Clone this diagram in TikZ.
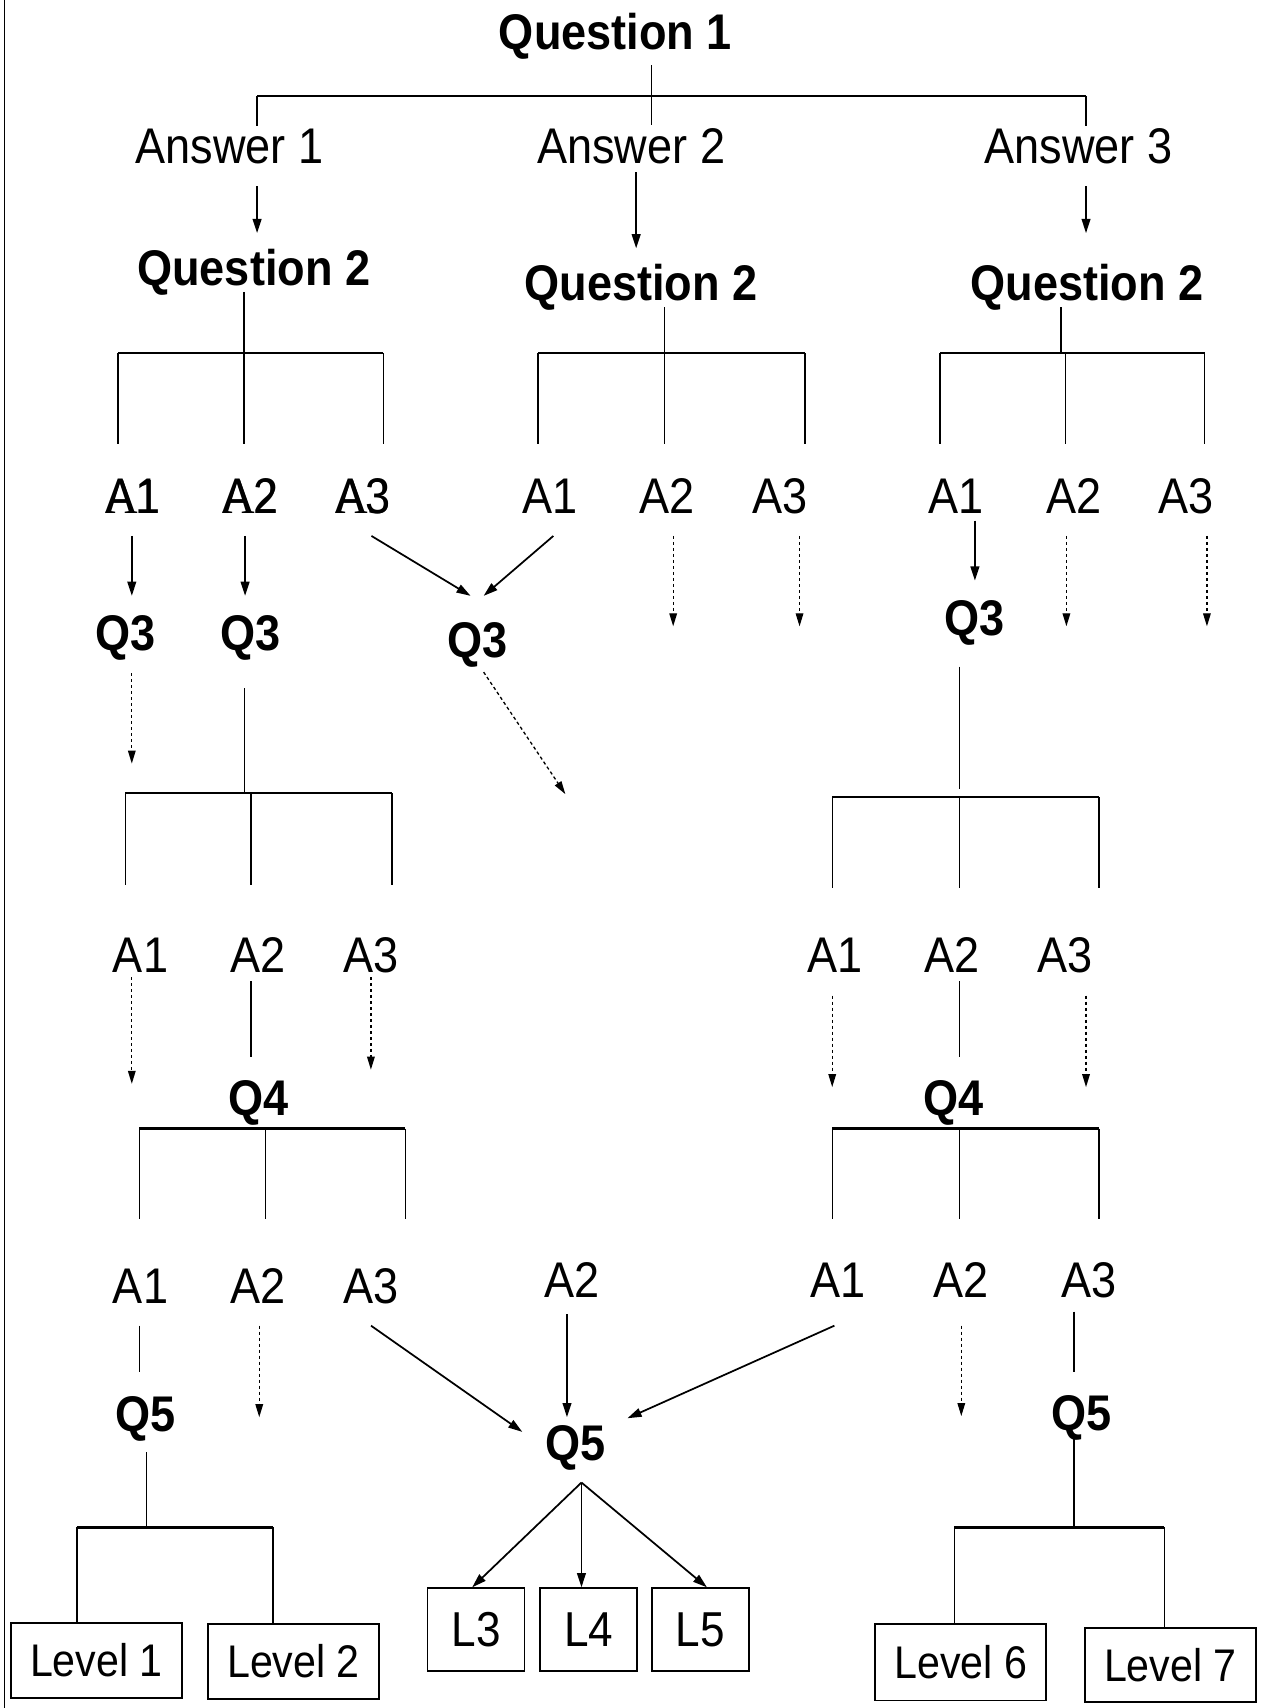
\documentclass[tikz,border=0pt]{standalone}
\usepackage{fontspec}
\setmainfont{Liberation Sans}[FakeStretch=0.9]
\newfontfamily\twinserif{Liberation Serif}[FakeStretch=0.9]
\usetikzlibrary{arrows.meta}
% label drawn twice, serif over sans, centred on one point
\newcommand{\twin}[1]{\makebox[0pt]{#1}\makebox[0pt]{\twinserif #1}}
\begin{document}
\begin{tikzpicture}[x=1pt,y=-1pt,
  qlab/.style={font=\bfseries\fontsize{46}{52}\selectfont, inner sep=0pt, anchor=base},
  alab/.style={font=\fontsize{46}{52}\selectfont, inner sep=0pt, anchor=base},
  lvl/.style={draw, line width=1.6pt, inner sep=0pt, font=\fontsize{42}{48}\selectfont},
  lbox/.style={draw, line width=1.6pt, inner sep=0pt, font=\fontsize{45}{50}\selectfont,
               minimum width=89pt, minimum height=76pt},
  ln/.style={line width=1.3pt},
  bar/.style={line width=2.4pt},
  arr/.style={line width=1.6pt, -{Triangle[length=13pt,width=8pt]}},
  darr/.style={line width=1.2pt, dash pattern=on 3pt off 2.5pt, -{Triangle[length=12pt,width=7pt]}}
]
\useasboundingbox (0,0) rectangle (1167,1568);
\fill[white] (0,0) rectangle (1167,1568);
\draw[line width=1.5pt] (4,0) -- (4,1568);

% ---------- labels ----------
\node[qlab] (q1) at (565,45.5) {Question 1};
\node[alab] (ans1) at (210.5,150) {Answer 1};
\node[alab] (ans2) at (579.5,150) {Answer 2};
\node[alab] (ans3) at (990,150) {Answer 3};

\node[qlab] (q2l) at (233,262) {Question 2};
\node[qlab] (q2m) at (588.5,276) {Question 2};
\node[qlab] (q2r) at (998,276) {Question 2};

\node[alab] (la1) at (122,471) {\twin{A1}};
\node[alab] (la2) at (230,471) {\twin{A2}};
\node[alab] (la3) at (333,471) {\twin{A3}};
\node[alab] (ma1) at (505,471) {A1};
\node[alab] (ma2) at (612,471) {A2};
\node[alab] (ma3) at (716,471) {A3};
\node[alab] (ra1) at (878,471) {A1};
\node[alab] (ra2) at (986,471) {A2};
\node[alab] (ra3) at (1089,471) {A3};

\node[qlab] (q3a) at (115,597) {Q3};
\node[qlab] (q3b) at (230,597) {Q3};
\node[qlab] (q3c) at (438,603.5) {Q3};
\node[qlab] (q3d) at (895,583) {Q3};

\node[alab] (ba1) at (129,893) {A1};
\node[alab] (ba2) at (237,893) {A2};
\node[alab] (ba3) at (341,893) {A3};
\node[alab] (bb1) at (767,893) {A1};
\node[alab] (bb2) at (874,893) {A2};
\node[alab] (bb3) at (978,893) {A3};

\node[qlab] (q4l) at (237,1024) {Q4};
\node[qlab] (q4r) at (875,1024) {Q4};

\node[alab] (ca1) at (129,1196.5) {A1};
\node[alab] (ca2) at (237,1196.5) {A2};
\node[alab] (ca3) at (341,1196.5) {A3};
\node[alab] (cm2) at (525,1191) {A2};
\node[alab] (cr1) at (769,1191) {A1};
\node[alab] (cr2) at (882,1191) {A2};
\node[alab] (cr3) at (1000,1191) {A3};

\node[qlab] (q5l) at (134,1314.5) {Q5};
\node[qlab] (q5m) at (528,1341) {Q5};
\node[qlab] (q5r) at (993,1313) {Q5};

\node[lvl, minimum width=157pt, minimum height=69pt] (lv1) at (88.5,1524.5) {Level 1};
\node[lvl, minimum width=157pt, minimum height=69pt] (lv2) at (269.5,1525.3) {Level 2};
\node[lbox] (l3) at (437,1496) {L3};
\node[lbox] (l4) at (540.5,1496) {L4};
\node[lbox] (l5) at (643,1496) {L5};
\node[lvl, minimum width=157pt, minimum height=70pt] (lv6) at (882,1526) {Level 6};
\node[lvl, minimum width=157pt, minimum height=68pt] (lv7) at (1074.5,1528.5) {Level 7};

% ---------- Question 1 fork ----------
\draw[ln] (598,60) -- (598,115);
\draw[bar] (236,88) -- (997,88);
\draw[ln] (236,88) -- (236,116);
\draw[ln] (997,88) -- (997,116);

\draw[arr] (236,171) -- (236,214);
\draw[arr] (584,158) -- (584,228);
\draw[arr] (997,171) -- (997,214);

% ---------- Question 2 forks ----------
\draw[ln] (224,268) -- (224,324);
\draw[bar] (108.5,324) -- (352,324);
\foreach \x in {108.5,224,352} \draw[ln] (\x,324) -- (\x,408);

\draw[ln] (610,282) -- (610,324);
\draw[bar] (494,324) -- (739,324);
\foreach \x in {494,610,739} \draw[ln] (\x,324) -- (\x,408);

\draw[ln] (974,282) -- (974,324);
\draw[bar] (863,324) -- (1106,324);
\foreach \x in {863,978,1106} \draw[ln] (\x,324) -- (\x,408);

% ---------- answers to Question 3 ----------
\draw[arr] (121,492) -- (121,547);
\draw[arr] (225,492) -- (225,547);
\draw[arr] (341,492) -- (432,547);
\draw[arr] (508,492) -- (444,547);
\draw[darr] (618,492) -- (618,575);
\draw[darr] (734,492) -- (734,575);
\draw[arr] (895,478) -- (895,533);
\draw[darr] (979,492) -- (979,575);
\draw[darr] (1108,492) -- (1108,575);

% ---------- Question 3 forks ----------
\draw[darr] (121,618) -- (121,701);
\draw[darr] (444,617) -- (519,729);

\draw[ln] (224.5,632) -- (224.5,728);
\draw[bar] (115,728) -- (360,728);
\foreach \x in {115,230.5,360} \draw[ln] (\x,728) -- (\x,812);

\draw[ln] (881,612) -- (881,724);
\draw[bar] (764,731.5) -- (1009,731.5);
\foreach \x in {764,881,1009} \draw[ln] (\x,731.5) -- (\x,815);

% ---------- answers to Question 4 ----------
\draw[darr] (121,897) -- (121,995);
\draw[ln] (230.5,901) -- (230.5,970);
\draw[darr] (340.5,897) -- (340.5,982);
\draw[darr] (764,914) -- (764,998);
\draw[ln] (881,901) -- (881,970);
\draw[darr] (997,914) -- (997,998);

% ---------- Question 4 forks ----------
\draw[bar] (128,1036) -- (372,1036);
\foreach \x in {128,244,372} \draw[ln] (\x,1036) -- (\x,1119.5);
\draw[bar] (764,1036) -- (1009,1036);
\foreach \x in {764,881,1009} \draw[ln] (\x,1036) -- (\x,1119.5);

% ---------- answers to Question 5 ----------
\draw[ln] (128,1217) -- (128,1259.5);
\draw[darr] (238,1217) -- (238,1301);
\draw[arr] (340.6,1217) -- (479.5,1314.5);
\draw[arr] (520.5,1206.5) -- (520.5,1301);
\draw[arr] (766,1217) -- (576,1302);
\draw[darr] (882.5,1217) -- (882.5,1300);
\draw[ln] (986,1204) -- (986,1259.5);

% ---------- Question 5 to levels ----------
\draw[ln] (134.6,1333) -- (134.6,1402);
\draw[bar] (70.6,1402) -- (250.5,1402);
\draw[ln] (70.6,1402) -- (lv1.north -| 70.6,0);
\draw[ln] (250.5,1402) -- (lv2.north -| 250.5,0);

\coordinate (q5fan) at (533.8,1361);
\draw[arr] (q5fan) -- (l3.north -| 433.5,0);
\draw[arr] (q5fan) -- (l4.north -| 533.8,0);
\draw[arr] (q5fan) -- (l5.north -| 649,0);

\draw[ln] (986,1319) -- (986,1402);
\draw[bar] (876,1402) -- (1069,1402);
\draw[ln] (876,1402) -- (lv6.north -| 876,0);
\draw[ln] (1069,1402) -- (lv7.north -| 1069,0);
\end{tikzpicture}
\end{document}
